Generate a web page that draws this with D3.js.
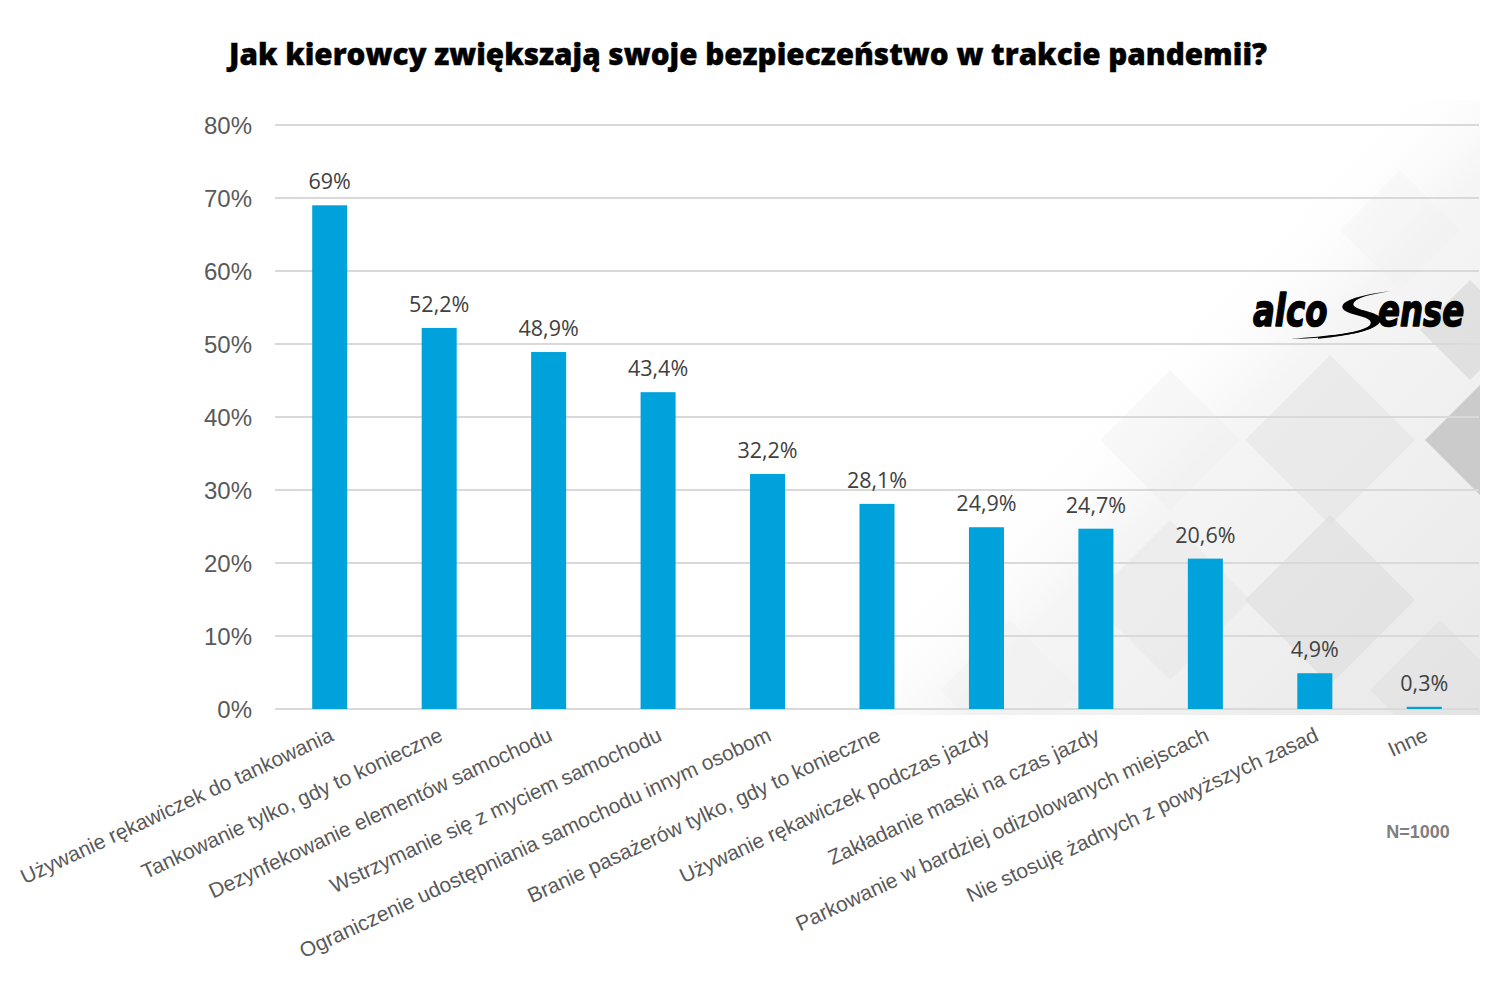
<!DOCTYPE html>
<html>
<head>
<meta charset="utf-8">
<script src="https://cdn.jsdelivr.net/npm/d3@7"></script>
<style>
  body { margin: 0; background: #fff; }
  .arial { font-family: "Liberation Sans", Arial, sans-serif; }
</style>
</head>
<body>
<div id="chart-area"></div>
<script>
// data
var categories = [
    "Używanie rękawiczek do tankowania",
    "Tankowanie tylko, gdy to konieczne",
    "Dezynfekowanie elementów samochodu",
    "Wstrzymanie się z myciem samochodu",
    "Ograniczenie udostępniania samochodu innym osobom",
    "Branie pasażerów tylko, gdy to konieczne",
    "Używanie rękawiczek podczas jazdy",
    "Zakładanie maski na czas jazdy",
    "Parkowanie w bardziej odizolowanych miejscach",
    "Nie stosuję żadnych z powyższych zasad",
    "Inne"
];
var values = [69, 52.2, 48.9, 43.4, 32.2, 28.1, 24.9, 24.7, 20.6, 4.9, 0.3];
var valueLabels = ["69%", "52,2%", "48,9%", "43,4%", "32,2%", "28,1%", "24,9%", "24,7%", "20,6%", "4,9%", "0,3%"];
var yTicks = [0, 10, 20, 30, 40, 50, 60, 70, 80];

var canvasWidth = 1485;
var canvasHeight = 990;
var margin = { left: 275, right: 6, top: 125, bottom: 281 };
var width = canvasWidth - margin.left - margin.right;
var height = canvasHeight - margin.top - margin.bottom;

var svg = d3.select("#chart-area")
    .append("svg")
        .attr("width", canvasWidth)
        .attr("height", canvasHeight);

// background decoration (grey diamonds, bottom right)
var defs = svg.append("defs");
var grad = defs.append("linearGradient")
    .attr("id", "bgfade")
    .attr("x1", "0%").attr("y1", "0%")
    .attr("x2", "100%").attr("y2", "100%");
grad.append("stop").attr("offset", "0.42").attr("stop-color", "#ffffff").attr("stop-opacity", 0);
grad.append("stop").attr("offset", "0.56").attr("stop-color", "#f5f5f5").attr("stop-opacity", 1);
grad.append("stop").attr("offset", "1").attr("stop-color", "#e8e8e8").attr("stop-opacity", 1);

defs.append("clipPath").attr("id", "bgclip")
    .append("rect")
        .attr("x", 880).attr("y", 100)
        .attr("width", 600).attr("height", 615);

var bg = svg.append("g").attr("clip-path", "url(#bgclip)");
bg.append("rect")
    .attr("x", 880).attr("y", 100)
    .attr("width", 600).attr("height", 615)
    .attr("fill", "url(#bgfade)");

var diamonds = [
    { cx: 1480, cy: 440, r: 55, c: "#c4c4c4", o: 0.85 },
    { cx: 1470, cy: 330, r: 50, c: "#d0d0d0", o: 0.5 },
    { cx: 1330, cy: 440, r: 85, c: "#e0e0e0", o: 0.45 },
    { cx: 1330, cy: 600, r: 85, c: "#d9d9d9", o: 0.5 },
    { cx: 1170, cy: 600, r: 80, c: "#e4e4e4", o: 0.4 },
    { cx: 1170, cy: 440, r: 70, c: "#ececec", o: 0.3 },
    { cx: 1440, cy: 690, r: 70, c: "#dcdcdc", o: 0.4 },
    { cx: 1010, cy: 690, r: 70, c: "#eeeeee", o: 0.35 },
    { cx: 1400, cy: 230, r: 60, c: "#f0f0f0", o: 0.3 }
];
bg.selectAll("path.diamond")
    .data(diamonds)
    .enter()
    .append("path")
        .attr("class", "diamond")
        .attr("d", d => `M${d.cx},${d.cy - d.r}L${d.cx + d.r},${d.cy}L${d.cx},${d.cy + d.r}L${d.cx - d.r},${d.cy}Z`)
        .attr("fill", d => d.c)
        .attr("opacity", d => d.o);

var g = svg.append("g")
    .attr("transform", `translate(${margin.left},${margin.top})`);

var x = d3.scaleBand()
    .domain(categories)
    .range([0, width])
    .paddingInner(0.68)
    .paddingOuter(0.34);

var y = d3.scaleLinear()
    .domain([0, 80])
    .range([height, 0]);

// gridlines
g.selectAll("line.grid")
    .data(yTicks)
    .enter()
    .append("line")
        .attr("class", "grid")
        .attr("x1", 0)
        .attr("x2", width)
        .attr("y1", d => y(d))
        .attr("y2", d => y(d))
        .attr("stroke", "#d9d9d9")
        .attr("stroke-width", 2);

// Y axis
var yAxisCall = d3.axisLeft(y)
    .tickValues(yTicks)
    .tickSize(0)
    .tickPadding(23)
    .tickFormat(d => `${d}%`);
var yAxis = g.append("g")
    .attr("class", "y axis")
    .call(yAxisCall);
yAxis.select(".domain").remove();
yAxis.attr("font-family", null);
yAxis.selectAll("text")
    .attr("class", "arial")
    .style("font-size", "24px")
    .attr("fill", "#595959")
    .attr("dy", "0.34em");

// X axis
var xAxisCall = d3.axisBottom(x)
    .tickSize(0)
    .tickPadding(0);
var xAxis = g.append("g")
    .attr("class", "x axis")
    .attr("transform", `translate(0,${height})`)
    .call(xAxisCall);
xAxis.select(".domain").remove();
xAxis.attr("font-family", null);
xAxis.selectAll("text")
    .attr("class", "arial")
    .style("font-size", "21px")
    .attr("fill", "#595959")
    .attr("text-anchor", "end")
    .attr("dy", null)
    .attr("y", 0)
    .attr("transform", "translate(5,31) rotate(-25)");

// bars
g.selectAll("rect.bar")
    .data(values)
    .enter()
    .append("rect")
        .attr("class", "bar")
        .attr("x", (d, i) => x(categories[i]))
        .attr("y", d => y(d))
        .attr("width", x.bandwidth())
        .attr("height", d => height - y(d))
        .attr("fill", "#00a2dc");

// data labels
g.selectAll("text.value")
    .data(values)
    .enter()
    .append("text")
        .attr("class", "value")
        .attr("x", (d, i) => x(categories[i]) + x.bandwidth() / 2)
        .attr("y", d => y(d) - 16)
        .attr("text-anchor", "middle")
        .style("font-family", "'Open Sans', sans-serif")
        .style("font-size", "21.5px")
        .attr("fill", "#404040")
        .text((d, i) => valueLabels[i]);

// title
svg.append("text")
    .attr("x", 748)
    .attr("y", 65)
    .attr("text-anchor", "middle")
    .attr("textLength", 1038)
    .attr("lengthAdjust", "spacingAndGlyphs")
    .style("font-family", "'Open Sans', sans-serif")
    .style("font-weight", 800)
    .style("font-size", "30px")
    .attr("fill", "#000")
    .attr("stroke", "#000")
    .attr("stroke-width", 0.4)
    .text("Jak kierowcy zwiększają swoje bezpieczeństwo w trakcie pandemii?");

// N label
svg.append("text")
    .attr("class", "arial")
    .attr("x", 1418)
    .attr("y", 838)
    .attr("text-anchor", "middle")
    .style("font-weight", "bold")
    .style("font-size", "18px")
    .attr("fill", "#7f7f7f")
    .text("N=1000");

// logo
var logo = svg.append("g").attr("class", "logo");
// swoosh S drawn first, letters on top
logo.append("path")
    .attr("d", "M1392,291 C1365,294 1338,300 1343,309 C1348,316 1376,316 1370,325 C1362,333 1328,336 1290,339 C1333,338 1374,333 1380,322 C1385,312 1360,312 1354,306 C1350,299 1370,294 1392,291 Z")
    .attr("fill", "#000");
logo.append("path")
    .attr("d", "M1378,322 C1372,331 1346,335 1318,338")
    .attr("fill", "none")
    .attr("stroke", "#000")
    .attr("stroke-width", 1.5);
var logoParts = [
    { text: "alco", x: 1253 },
    { text: "ense", x: 1378 }
];
logo.selectAll("text")
    .data(logoParts)
    .enter()
    .append("text")
        .attr("transform", d => `translate(${d.x},326) scale(0.72,1)`)
        .style("font-family", "'DejaVu Sans', sans-serif")
        .style("font-weight", "bold")
        .style("font-style", "italic")
        .style("font-size", "45px")
        .attr("fill", "#000")
        .attr("stroke", "#000")
        .attr("stroke-width", 1.6)
        .attr("stroke-linejoin", "round")
        .text(d => d.text);
</script>
</body>
</html>
